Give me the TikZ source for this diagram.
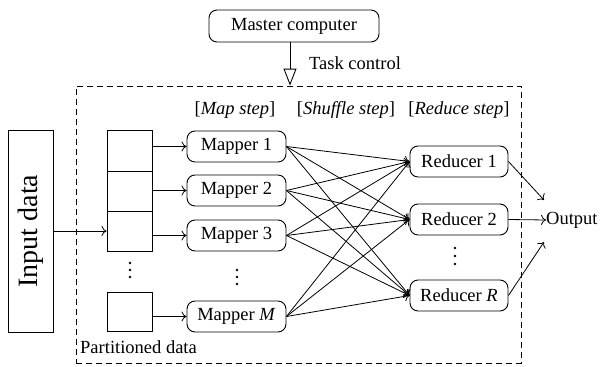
\documentclass[tikz,border=0pt]{standalone}
\usepackage{fontspec}
\setmainfont{Liberation Serif}
\usetikzlibrary{arrows.meta}

\begin{document}
\begin{tikzpicture}[x=1pt,y=-1pt,
  every node/.style={font=\fontsize{18.5}{22}\selectfont, inner sep=0pt},
  rbox/.style={draw, rounded corners=8pt, line width=0.9pt, minimum width=99pt, minimum height=31pt},
  cell/.style={draw, line width=0.9pt, minimum width=45pt},
  link/.style={line width=0.8pt, -{To[length=5pt,width=10pt]}},
  frameline/.style={draw, line width=0.8pt, dash pattern=on 6pt off 4pt},
  dot/.style={fill, radius=1.3pt}]
\useasboundingbox (0,0) rectangle (611,367);

% job frame
\node[frameline, minimum width=445pt, minimum height=277pt] (frame) at (298.5,224.5) {};

% master and task control
\node[rbox, minimum width=170pt, minimum height=32pt] (master) at (294,26) {Master computer};
\draw[line width=0.9pt, -{Triangle[open,width=13pt,length=17pt]}]
  ([xshift=-4pt]master.south) -- ([xshift=-4pt]master.south |- frame.north);
\node[anchor=west] (tc) at (309,63) {Task control};

% step labels
\node (lmap) at (235,110) {[\textit{Map step}]};
\node (lshuf) at (346,110) {[\textit{Shuffle step}]};
\node (lred) at (459,110) {[\textit{Reduce step}]};

% input data
\node[draw, line width=0.9pt, minimum width=45pt, minimum height=202pt] (in) at (30.5,231)
  {\rotatebox{90}{\fontsize{28}{32}\selectfont Input data}};

% partitioned data
\node[cell, minimum height=41pt] (p1) at (129.5,150.5) {};
\node[cell, minimum height=40pt] (p2) at (129.5,191) {};
\node[cell, minimum height=40pt] (p3) at (129.5,231) {};
\node[cell, minimum height=39pt] (pM) at (129.5,311.5) {};
\node[anchor=west] (pl) at (80,347) {Partitioned data};

% mappers
\node[rbox] (m1) at (236.5,146.5) {Mapper 1};
\node[rbox] (m2) at (236.5,190.5) {Mapper 2};
\node[rbox] (m3) at (236.5,235.5) {Mapper 3};
\node[rbox] (mM) at (236.5,316.5) {Mapper \textit{M}};

% reducers
\node[rbox, minimum width=98pt] (r1) at (459,161.5) {Reducer 1};
\node[rbox, minimum width=98pt] (r2) at (459,219.5) {Reducer 2};
\node[rbox, minimum width=98pt] (rR) at (459,295.5) {Reducer \textit{R}};

% vertical ellipses
\foreach \y in {263,270,277} \fill[dot] (130,\y) circle;
\foreach \y in {270,277,284} \fill[dot] (237,\y) circle;
\foreach \y in {248,256,264} \fill[dot] (455,\y) circle;

% output
\node[anchor=west] (out) at (546,220) {Output};
\coordinate (o1) at (544,200);
\coordinate (o3) at (544,242);

% connectors
\draw[link] (in) -- (p3);
\draw[link] (p1.east |- m1.west) -- (m1.west);
\draw[link] (p2.east |- m2.west) -- (m2.west);
\draw[link] (p3.east |- m3.west) -- (m3.west);
\draw[link] (pM.east |- mM.west) -- (mM.west);
\foreach \m in {m1,m2,m3,mM}
  \foreach \r in {r1,r2,rR}
    \draw[link] (\m.east) -- (\r.west);
\draw[link] (r1.east) -- (o1);
\draw[link] (r2.east) -- (out.west);
\draw[link] (rR.east) -- (o3);
\end{tikzpicture}
\end{document}
